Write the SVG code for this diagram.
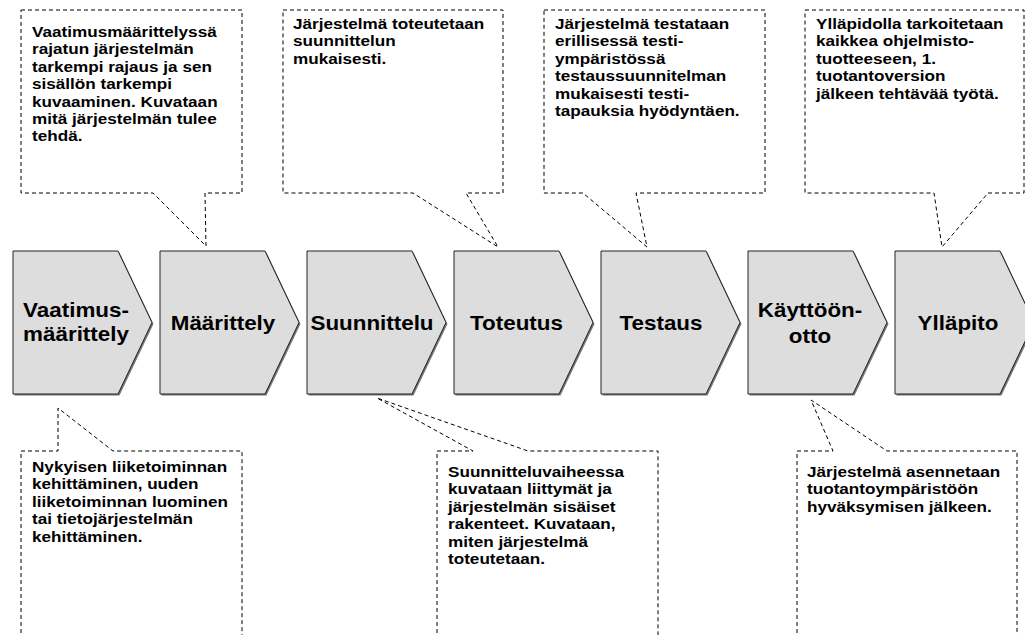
<svg xmlns="http://www.w3.org/2000/svg" width="1025" height="635" viewBox="0 0 1025 635">
<defs>
<style>
.chev{fill:#dddddd;stroke:#222;stroke-width:1}
.shadow{fill:#777}
.call{fill:#fff;stroke:#000;stroke-width:1;stroke-dasharray:4 3}
.ct{font-family:"Liberation Sans",Arial,sans-serif;font-weight:bold;font-size:15.3px;fill:#000}
.lbl{font-family:"Liberation Sans",Arial,sans-serif;font-weight:bold;font-size:20px;fill:#000;text-anchor:middle}
</style>
<polygon id="chevShape" points="0,0 105,0 139,71.5 105,143 0,143"/>
</defs>
<rect width="1025" height="635" fill="#fff"/>

<g id="callouts-top">
<g id="c-maarittely">
<path class="call" d="M21,10 H242 V193 H205 L206,246 L153,193 H21 Z"/>
<text class="ct" transform="translate(32,37) scale(1.12,1)"><tspan x="0">Vaatimusmäärittelyssä</tspan><tspan x="0" dy="17.4">rajatun järjestelmän</tspan><tspan x="0" dy="17.4">tarkempi rajaus ja sen</tspan><tspan x="0" dy="17.4">sisällön tarkempi</tspan><tspan x="0" dy="17.4">kuvaaminen. Kuvataan</tspan><tspan x="0" dy="17.4">mitä järjestelmän tulee</tspan><tspan x="0" dy="17.4">tehdä.</tspan></text>
</g>
<g id="c-toteutus">
<path class="call" d="M283,10 H503 V193 H466 L498,247 L413,193 H283 Z"/>
<text class="ct" transform="translate(293,29) scale(1.12,1)"><tspan x="0">Järjestelmä toteutetaan</tspan><tspan x="0" dy="17.4">suunnittelun</tspan><tspan x="0" dy="17.4">mukaisesti.</tspan></text>
</g>
<g id="c-testaus">
<path class="call" d="M544,10 H765 V193 H636 L647,247 L583,193 H544 Z"/>
<text class="ct" transform="translate(555,29) scale(1.12,1)"><tspan x="0">Järjestelmä testataan</tspan><tspan x="0" dy="17.4">erillisessä testi-</tspan><tspan x="0" dy="17.4">ympäristössä</tspan><tspan x="0" dy="17.4">testaussuunnitelman</tspan><tspan x="0" dy="17.4">mukaisesti testi-</tspan><tspan x="0" dy="17.4">tapauksia hyödyntäen.</tspan></text>
</g>
<g id="c-yllapito">
<path class="call" d="M805,10 H1024 V193 H988 L942,247 L934,193 H805 Z"/>
<text class="ct" transform="translate(816,29) scale(1.12,1)"><tspan x="0">Ylläpidolla tarkoitetaan</tspan><tspan x="0" dy="17.4">kaikkea ohjelmisto-</tspan><tspan x="0" dy="17.4">tuotteeseen, 1.</tspan><tspan x="0" dy="17.4">tuotantoversion</tspan><tspan x="0" dy="17.4">jälkeen tehtävää työtä.</tspan></text>
</g>
</g>

<g id="callouts-bottom">
<g id="c-vaatimus">
<path class="call" d="M21,640 V451 H58 L58,408 L113,451 H242 V640"/>
<text class="ct" transform="translate(32,472) scale(1.12,1)"><tspan x="0">Nykyisen liiketoiminnan</tspan><tspan x="0" dy="17.4">kehittäminen, uuden</tspan><tspan x="0" dy="17.4">liiketoiminnan luominen</tspan><tspan x="0" dy="17.4">tai tietojärjestelmän</tspan><tspan x="0" dy="17.4">kehittäminen.</tspan></text>
</g>
<g id="c-suunnittelu">
<path class="call" d="M437,640 V451 H473 L377,398 L528,451 H658 V640"/>
<text class="ct" transform="translate(448,477) scale(1.12,1)"><tspan x="0">Suunnitteluvaiheessa</tspan><tspan x="0" dy="17.4">kuvataan liittymät ja</tspan><tspan x="0" dy="17.4">järjestelmän sisäiset</tspan><tspan x="0" dy="17.4">rakenteet. Kuvataan,</tspan><tspan x="0" dy="17.4">miten järjestelmä</tspan><tspan x="0" dy="17.4">toteutetaan.</tspan></text>
</g>
<g id="c-kayttoonotto">
<path class="call" d="M797,640 V451 H833 L811,400 L887,451 H1017 V640"/>
<text class="ct" transform="translate(807,477) scale(1.12,1)"><tspan x="0">Järjestelmä asennetaan</tspan><tspan x="0" dy="17.4">tuotantoympäristöön</tspan><tspan x="0" dy="17.4">hyväksymisen jälkeen.</tspan></text>
</g>
</g>

<g id="connectors"></g>

<g id="n1">
<use href="#chevShape" class="shadow" x="14.5" y="252.5"/>
<use href="#chevShape" class="chev" x="13" y="251"/>
<text class="lbl" transform="translate(76,0) scale(1.12,1)"><tspan x="0" y="317">Vaatimus-</tspan><tspan x="0" y="341">määrittely</tspan></text>
</g>
<g id="n2">
<use href="#chevShape" class="shadow" x="161.5" y="252.5"/>
<use href="#chevShape" class="chev" x="160" y="251"/>
<text class="lbl" transform="translate(223,330) scale(1.12,1)">Määrittely</text>
</g>
<g id="n3">
<use href="#chevShape" class="shadow" x="308.5" y="252.5"/>
<use href="#chevShape" class="chev" x="307" y="251"/>
<text class="lbl" transform="translate(372,330) scale(1.12,1)">Suunnittelu</text>
</g>
<g id="n4">
<use href="#chevShape" class="shadow" x="455.5" y="252.5"/>
<use href="#chevShape" class="chev" x="454" y="251"/>
<text class="lbl" transform="translate(516.5,330) scale(1.12,1)">Toteutus</text>
</g>
<g id="n5">
<use href="#chevShape" class="shadow" x="602.5" y="252.5"/>
<use href="#chevShape" class="chev" x="601" y="251"/>
<text class="lbl" transform="translate(661,330) scale(1.12,1)">Testaus</text>
</g>
<g id="n6">
<use href="#chevShape" class="shadow" x="749.5" y="252.5"/>
<use href="#chevShape" class="chev" x="748" y="251"/>
<text class="lbl" transform="translate(810,0) scale(1.12,1)"><tspan x="0" y="317">Käyttöön-</tspan><tspan x="0" y="343">otto</tspan></text>
</g>
<g id="n7">
<use href="#chevShape" class="shadow" x="896.5" y="252.5"/>
<use href="#chevShape" class="chev" x="895" y="251"/>
<text class="lbl" transform="translate(958,330) scale(1.12,1)">Ylläpito</text>
</g>
</svg>
